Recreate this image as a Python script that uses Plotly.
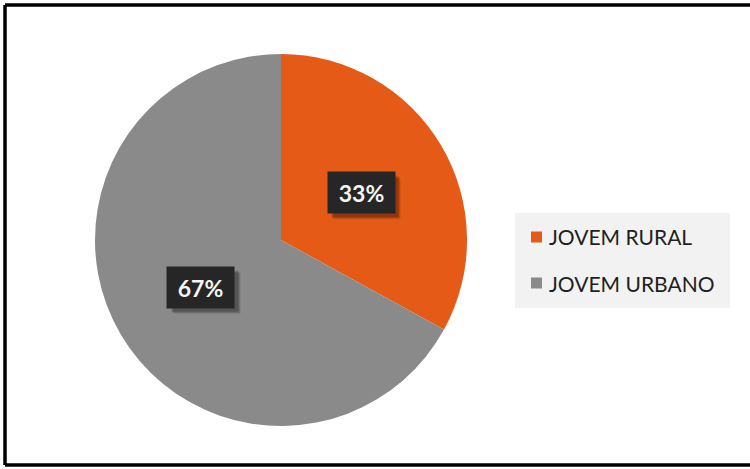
import math
import plotly.graph_objects as go

# ---- data ----
labels = ["JOVEM RURAL", "JOVEM URBANO"]
values = [33, 67]
colors = ["#E65A17", "#8A8A8A"]

W, H = 750, 469
cx, cy, R = 281, 240, 186  # pie centre/radius in px

def px(x):
    return x / W

def py(y):
    return 1 - y / H

fig = go.Figure()
fig.add_trace(go.Pie(
    labels=labels, values=values, sort=False, direction="clockwise", rotation=0,
    marker=dict(colors=colors, line=dict(width=0)),
    textinfo="none", hoverinfo="label+percent", showlegend=False,
    domain=dict(x=[px(cx - R), px(cx + R)], y=[py(cy + R), py(cy - R)]),
))

annotations = []
shapes = []
total = sum(values)
cum = 0
bw, bh = 67, 41
for lab, v in zip(labels, values):
    mid = (cum + v / 2) / total * 2 * math.pi
    cum += v
    lx = cx + 0.5 * R * math.sin(mid)
    ly = cy - 0.5 * R * math.cos(mid)
    pct = f"{round(v / total * 100)}%"
    # soft shadow
    for off, a in [(6, 0.10), (5, 0.14), (4, 0.18)]:
        shapes.append(dict(type="rect", xref="paper", yref="paper",
                           x0=px(lx - bw / 2 + off), x1=px(lx + bw / 2 + off),
                           y0=py(ly + bh / 2 + off), y1=py(ly - bh / 2 + off),
                           fillcolor=f"rgba(0,0,0,{a})", line=dict(width=0)))
    annotations.append(dict(
        x=px(lx), y=py(ly), xref="paper", yref="paper", text=f"<b>{pct}</b>",
        xanchor="center", yanchor="middle",
        showarrow=False, width=bw, height=bh, borderpad=0,
        bgcolor="#262626", font=dict(color="#F5F5F5", size=23, family="Lato")))

# legend (manual)
shapes.append(dict(type="rect", xref="paper", yref="paper",
                   x0=px(515), x1=px(730), y0=py(308), y1=py(213),
                   fillcolor="#F2F2F2", line=dict(width=0), layer="below"))
for i, (lab, col) in enumerate(zip(labels, colors)):
    yc = 237 + i * 46
    shapes.append(dict(type="rect", xref="paper", yref="paper",
                       x0=px(531), x1=px(542), y0=py(yc + 5.5), y1=py(yc - 5.5),
                       fillcolor=col, line=dict(width=0)))
    annotations.append(dict(x=px(547), y=py(yc), xref="paper", yref="paper",
                            xanchor="left", yanchor="middle", text=lab, showarrow=False,
                            font=dict(color="#1F1F1F", size=21, family="Lato")))

# outer frame (left, top, bottom)
for x0, y0, x1, y1 in [(5, 5, 5, 465), (5, 5, 750, 5), (5, 465, 750, 465)]:
    shapes.append(dict(type="line", xref="paper", yref="paper",
                       x0=px(x0), y0=py(y0), x1=px(x1), y1=py(y1),
                       line=dict(color="#000000", width=3.5)))

fig.update_layout(
    width=W, height=H, margin=dict(l=0, r=0, t=0, b=0),
    paper_bgcolor="#FFFFFF", plot_bgcolor="#FFFFFF",
    annotations=annotations, shapes=shapes,
)
fig.write_html("out.html")
